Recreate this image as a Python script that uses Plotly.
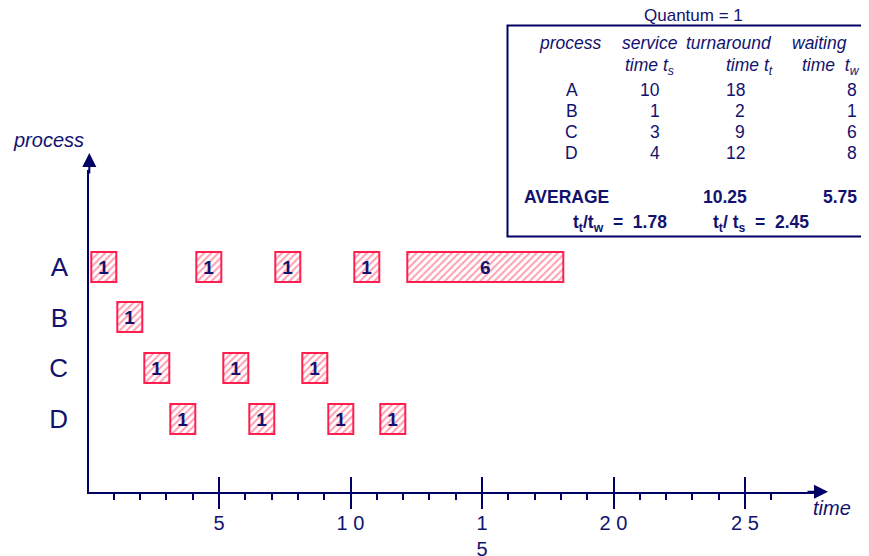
import plotly.graph_objects as go

# ---- data ----
processes = ["A", "B", "C", "D"]
slice_process = ["A", "B", "C", "D", "A", "C", "D", "A", "C", "D", "A", "D", "A"]
slice_start = [0, 1, 2, 3, 4, 5, 6, 7, 8, 9, 10, 11, 12]
slice_length = [1, 1, 1, 1, 1, 1, 1, 1, 1, 1, 1, 1, 6]

major_ticks = [5, 10, 15, 20, 25]
major_labels = ["5", "1 0", "1<br>5", "2 0", "2 5"]
minor_ticks = [1, 2, 3, 4, 6, 7, 8, 9, 11, 12, 13, 14, 16, 17, 18, 19, 21, 22, 23, 24, 26]

service_time = [10, 1, 3, 4]
turnaround_time = [18, 2, 9, 12]
waiting_time = [8, 1, 6, 8]
avg_turnaround = "10.25"
avg_waiting = "5.75"
ratio_tw = "1.78"
ratio_ts = "2.45"

# ---- style ----
OFF = 8                      # page body margin
W, H = 869 - OFF, 556 - OFF
NAVY = "#12126e"
AXIS = "#000066"
RED = "#ff1f4f"
FONT = "Liberation Sans, Arial, sans-serif"
NB = "\u00a0"

def px(x):
    return (x - OFF) / W

def py(y):
    return 1 - (y - OFF) / H

X0, UNIT = 87.5, 26.3          # screen pixel of time 0, pixels per time unit
Y0, ROW = 266.8, 50.6           # screen pixel of row A, pixels per row
dom_x = (89.3, 815.0)
dom_y = (170.0, 491.7)
xrange_ = [(dom_x[0] - X0) / UNIT, (dom_x[1] - X0) / UNIT]
yrange_ = [(dom_y[1] - Y0) / ROW, (dom_y[0] - Y0) / ROW]

shift = 0.15
fig = go.Figure()
fig.add_trace(go.Bar(
    orientation="h",
    y=slice_process,
    base=[s + shift for s in slice_start],
    x=[l - 0.05 for l in slice_length],
    width=0.59,
    text=[str(l) for l in slice_length],
    texttemplate="<b>%{text}</b>",
    textposition="inside",
    insidetextanchor="middle",
    textangle=0,
    constraintext="none",
    textfont=dict(color=NAVY, size=19, family=FONT),
    marker=dict(
        color="white",
        line=dict(color=RED, width=2),
        pattern=dict(shape="/", fgcolor="#ff3a62", bgcolor="white", size=5, solidity=0.4),
    ),
    showlegend=False,
    hoverinfo="skip",
))
fig.add_trace(go.Scatter(x=[], y=[], xaxis="x2", yaxis="y", showlegend=False))

axis_common = dict(
    range=xrange_,
    domain=[px(dom_x[0]), px(dom_x[1])],
    tickmode="array",
    tickvals=major_ticks,
    ticklen=15,
    tickwidth=2,
    tickcolor=AXIS,
    showgrid=False,
    zeroline=False,
    automargin=False,
    minor=dict(tickvals=minor_ticks, ticklen=6.5, tickwidth=2, tickcolor=AXIS, showgrid=False),
)

fig.update_layout(
    width=W, height=H,
    margin=dict(l=0, r=0, t=0, b=0, pad=0),
    paper_bgcolor="white", plot_bgcolor="white",
    font=dict(family=FONT, color=NAVY),
    bargap=0,
    xaxis=dict(
        **axis_common,
        ticks="outside",
        ticktext=major_labels,
        ticklabelstandoff=-3,
        tickfont=dict(size=20, color=NAVY, family=FONT),
        showline=True, linecolor=AXIS, linewidth=2,
        anchor="y",
    ),
    xaxis2=dict(
        **axis_common,
        ticks="inside",
        showticklabels=False,
        showline=False,
        overlaying="x",
        anchor="y",
    ),
    yaxis=dict(
        type="category",
        categoryarray=processes,
        categoryorder="array",
        range=yrange_,
        domain=[py(dom_y[1]), py(dom_y[0])],
        showline=True, linecolor=AXIS, linewidth=2,
        showgrid=False, zeroline=False,
        automargin=False,
        ticks="",
        ticklabelstandoff=14,
        tickfont=dict(size=26, color=NAVY, family=FONT),
    ),
)

ann = []
# axis arrows
ann.append(dict(xref="paper", yref="paper", x=px(828), y=py(491.7), ax=-22, ay=0,
                showarrow=True, arrowhead=2, arrowsize=1.4, arrowwidth=2, arrowcolor=AXIS, text=""))
ann.append(dict(xref="paper", yref="paper", x=px(89.3), y=py(153), ax=0, ay=22,
                showarrow=True, arrowhead=2, arrowsize=1.4, arrowwidth=2, arrowcolor=AXIS, text=""))

def txt(x, y, t, anchor="center", size=17.5):
    ann.append(dict(xref="paper", yref="paper", x=px(x), y=py(y), text=t, xanchor=anchor,
                    yanchor="middle", showarrow=False, borderpad=0,
                    font=dict(size=size, color=NAVY)))

txt(48, 140, "<i>process</i>", size=20)
txt(832, 508, "<i>time</i>", size=20)

txt(693, 15, "Quantum" + NB + "=" + NB + "1", size=17)
txt(570, 43, "<i>process</i>")
txt(649.5, 43, "<i>service</i>")
txt(728.5, 43, "<i>turnaround</i>")
txt(819.5, 43, "<i>waiting</i>")
txt(675, 66, "<i>time t<sub>s</sub></i>", "right")
txt(774, 66, "<i>time t<sub>t</sub></i>", "right")
txt(861, 66, "<i>time" + NB + NB + "t<sub>w</sub></i>", "right")

row_y = [90, 111.5, 132.5, 153]
for i, p in enumerate(processes):
    txt(571.5, row_y[i], p)
    txt(661, row_y[i], str(service_time[i]), "right")
    txt(746, row_y[i], str(turnaround_time[i]), "right")
    txt(858, row_y[i], str(waiting_time[i]), "right")

txt(523, 197, "<b>AVERAGE</b>", "left")
txt(748, 197, "<b>" + avg_turnaround + "</b>", "right")
txt(858, 197, "<b>" + avg_waiting + "</b>", "right")
sp = NB + NB + "=" + NB + NB
txt(620, 224, "<b>t<sub>t</sub>/t<sub>w</sub>" + sp + ratio_tw + "</b>")
txt(761, 224, "<b>t<sub>t</sub>/" + NB + "t<sub>s</sub>" + sp + ratio_ts + "</b>")

fig.update_layout(annotations=ann)
fig.add_shape(type="rect", xref="paper", yref="paper",
              x0=px(507.5), x1=px(900), y0=py(236.5), y1=py(25.5),
              line=dict(color=AXIS, width=2), fillcolor="rgba(0,0,0,0)", layer="below")

fig.write_html(
    "out.html",
    post_script="document.documentElement.style.overflow='hidden';document.body.style.overflow='hidden';",
)
